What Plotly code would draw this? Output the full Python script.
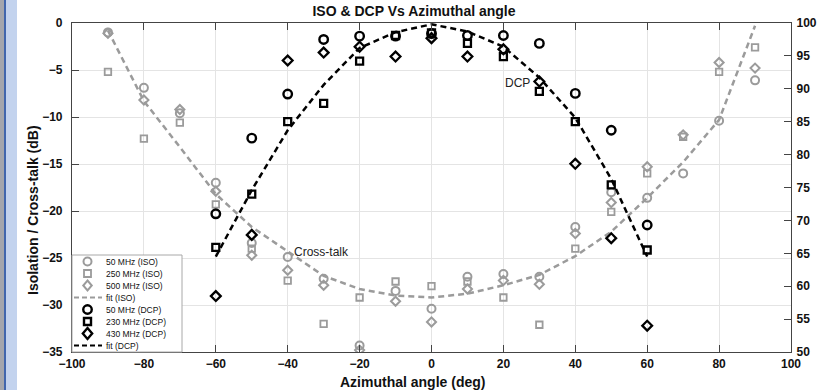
import plotly.graph_objects as go

# ---------------- data ----------------
angles_iso = [-90, -80, -70, -60, -50, -40, -30, -20, -10, 0, 10, 20, 30, 40, 50, 60, 70, 80, 90]
iso_50 = [-1.0, -6.9, -9.6, -17.0, -23.4, -24.9, -27.2, -34.3, -28.5, -30.4, -27.0, -26.7, -27.0, -21.7, -18.0, -18.6, -16.0, -10.4, -6.1]
iso_250 = [-5.2, -12.3, -10.6, -19.3, -24.0, -27.4, -32.0, -29.2, -27.5, -28.0, -27.5, -29.2, -32.1, -24.0, -20.1, -16.0, -12.1, -5.2, -2.6]
iso_500 = [-1.1, -8.2, -9.2, -17.9, -24.7, -26.3, -27.9, -34.8, -29.6, -31.8, -28.3, -27.4, -27.8, -22.4, -19.1, -15.3, -11.9, -4.2, -4.8]
iso_fit = [-0.8, -8.3, -13.2, -18.2, -21.7, -24.3, -26.9, -28.3, -29.0, -29.2, -28.8, -27.9, -26.8, -24.8, -22.2, -18.6, -14.8, -10.3, -0.3]

angles_dcp = [-60, -50, -40, -30, -20, -10, 0, 10, 20, 30, 40, 50, 60]
dcp_50 = [71.0, 82.5, 89.2, 97.5, 98.0, 98.0, 98.4, 98.1, 98.1, 96.9, 89.3, 83.7, 69.3]
dcp_230 = [65.9, 74.0, 85.0, 87.8, 94.2, 98.1, 98.5, 96.9, 94.9, 89.6, 85.0, 75.4, 65.5]
dcp_430 = [58.5, 67.8, 94.3, 95.5, 96.4, 94.9, 97.7, 94.9, 96.0, 91.1, 78.6, 67.3, 54.0]
dcp_fit = [64.5, 74.6, 83.7, 90.6, 96.2, 98.6, 99.8, 98.7, 96.4, 91.7, 85.6, 76.3, 64.5]

legend_labels = ["50 MHz (ISO)", "250 MHz (ISO)", "500 MHz (ISO)", "fit (ISO)",
                 "50 MHz (DCP)", "230 MHz (DCP)", "430 MHz (DCP)", "fit (DCP)"]

GRAY = "#9b9b9b"
BLACK = "#000000"
FONT = "Liberation Sans"

fig = go.Figure()

# ISO (left axis)
fig.add_trace(go.Scatter(x=angles_iso, y=iso_fit, mode="lines", name="fit (ISO)",
                         line=dict(color=GRAY, width=2.5, dash="6px,4px")))
fig.add_trace(go.Scatter(x=angles_iso, y=iso_50, mode="markers", name="50 MHz (ISO)",
                         marker=dict(symbol="circle-open", size=8, color=GRAY, line=dict(width=2, color=GRAY))))
fig.add_trace(go.Scatter(x=angles_iso, y=iso_250, mode="markers", name="250 MHz (ISO)",
                         marker=dict(symbol="square-open", size=6.5, color=GRAY, line=dict(width=1.8, color=GRAY))))
fig.add_trace(go.Scatter(x=angles_iso, y=iso_500, mode="markers", name="500 MHz (ISO)",
                         marker=dict(symbol="diamond-open", size=7, color=GRAY, line=dict(width=2, color=GRAY))))

# DCP (right axis)
fig.add_trace(go.Scatter(x=angles_dcp, y=dcp_fit, mode="lines", name="fit (DCP)", yaxis="y2",
                         line=dict(color=BLACK, width=2.5, dash="6px,4px")))
fig.add_trace(go.Scatter(x=angles_dcp, y=dcp_50, mode="markers", name="50 MHz (DCP)", yaxis="y2",
                         marker=dict(symbol="circle-open", size=8.5, color=BLACK, line=dict(width=2.4, color=BLACK))))
fig.add_trace(go.Scatter(x=angles_dcp, y=dcp_230, mode="markers", name="230 MHz (DCP)", yaxis="y2",
                         marker=dict(symbol="square-open", size=7, color=BLACK, line=dict(width=2.3, color=BLACK))))
fig.add_trace(go.Scatter(x=angles_dcp, y=dcp_430, mode="markers", name="430 MHz (DCP)", yaxis="y2",
                         marker=dict(symbol="diamond-open", size=7.5, color=BLACK, line=dict(width=2.3, color=BLACK))))

# ---------------- layout helpers (pixel -> paper) ----------------
L, R, T, B = 72, 791, 23, 352
W, H = R - L, B - T


def px(p):
    return (p - L) / W


def py(p):
    return 1 - (p - T) / H


shapes = []
# left decorative border strip
shapes.append(dict(type="rect", xref="paper", yref="paper", x0=px(0), x1=px(4), y0=py(390), y1=py(0),
                   fillcolor="#a4a6ad", line=dict(width=0), layer="above"))
shapes.append(dict(type="rect", xref="paper", yref="paper", x0=px(4), x1=px(6), y0=py(390), y1=py(0),
                   fillcolor="#4166ad", line=dict(width=0), layer="above"))
shapes.append(dict(type="rect", xref="paper", yref="paper", x0=px(6), x1=px(17), y0=py(390), y1=py(0),
                   fillcolor="#c3d3ee", line=dict(width=0), layer="above"))

# legend box
shapes.append(dict(type="rect", xref="paper", yref="paper", x0=px(72), x1=px(182), y0=py(352), y1=py(255),
                   fillcolor="white", line=dict(width=1, color="#a8a8a8"), layer="above"))

mx = 87.5
rows = [261.5 + 12 * i for i in range(8)]


def circle(cy, d, color, lw):
    return dict(type="circle", xref="paper", yref="paper", x0=px(mx - d / 2), x1=px(mx + d / 2),
                y0=py(cy + d / 2), y1=py(cy - d / 2), line=dict(color=color, width=lw), layer="above")


def square(cy, s, color, lw):
    return dict(type="rect", xref="paper", yref="paper", x0=px(mx - s / 2), x1=px(mx + s / 2),
                y0=py(cy + s / 2), y1=py(cy - s / 2), line=dict(color=color, width=lw), layer="above")


def diamond(cy, r, color, lw):
    path = "M {} {} L {} {} L {} {} L {} {} Z".format(
        px(mx), py(cy - r), px(mx + r * 0.85), py(cy), px(mx), py(cy + r), px(mx - r * 0.85), py(cy))
    return dict(type="path", xref="paper", yref="paper", path=path, line=dict(color=color, width=lw), layer="above")


def dline(cy, color):
    return dict(type="line", xref="paper", yref="paper", x0=px(74), x1=px(102), y0=py(cy), y1=py(cy),
                line=dict(color=color, width=2, dash="5px,3px"), layer="above")


shapes += [
    circle(rows[0], 8, GRAY, 2),
    square(rows[1], 7, GRAY, 1.8),
    diamond(rows[2], 5, GRAY, 2),
    dline(rows[3], GRAY),
    circle(rows[4], 8.5, BLACK, 2.4),
    square(rows[5], 7, BLACK, 2.4),
    diamond(rows[6], 5.5, BLACK, 2.4),
    dline(rows[7], BLACK),
]

annotations = []
for lab, cy in zip(legend_labels, rows):
    xs = 103.5
    annotations.append(dict(xref="paper", yref="paper", x=px(xs), y=py(cy), text=lab, showarrow=False,
                            xanchor="left", yanchor="middle", font=dict(family=FONT, size=8.5, color="#111")))

# in-plot labels
annotations.append(dict(x=23.8, y=-6.4, xref="x", yref="y", text="DCP", showarrow=False,
                        font=dict(family=FONT, size=12, color="#222")))
annotations.append(dict(x=-30.5, y=-24.35, xref="x", yref="y", text="Cross-talk", showarrow=False,
                        font=dict(family=FONT, size=12, color="#222")))

# axis titles
annotations.append(dict(xref="paper", yref="paper", x=px(412), y=py(382), text="Azimuthal angle (deg)",
                        showarrow=False, xanchor="center", yanchor="middle",
                        font=dict(family=FONT, size=14, color="#111", weight="bold")))
annotations.append(dict(xref="paper", yref="paper", x=px(33), y=py(210), text="Isolation / Cross-talk (dB)",
                        showarrow=False, textangle=-90, xanchor="center", yanchor="middle",
                        font=dict(family=FONT, size=14, color="#111", weight="bold")))

tickfont = dict(family=FONT, size=12, color="#111", weight="bold")

fig.update_layout(
    width=819, height=390,
    margin=dict(l=L, r=819 - R, t=T, b=390 - B, autoexpand=False),
    paper_bgcolor="white", plot_bgcolor="white",
    showlegend=False,
    title=dict(text="ISO & DCP Vs Azimuthal angle", x=414 / 819, xanchor="center",
               y=1 - 11 / 390, yanchor="middle", xref="container", yref="container",
               font=dict(family=FONT, size=14, color="#111", weight="bold")),
    xaxis=dict(range=[-100, 100], tick0=-100, dtick=20, showgrid=True, gridcolor="#e4e4e4", gridwidth=1,
               zeroline=False, showline=True, linecolor="#444", linewidth=1.2, mirror="ticks",
               ticks="inside", ticklen=7, tickcolor="#444", tickwidth=1, tickfont=tickfont,
               automargin=False),
    yaxis=dict(range=[-35, 0], tick0=0, dtick=5, showgrid=True, gridcolor="#e4e4e4", gridwidth=1,
               zeroline=False, showline=True, linecolor="#444", linewidth=1.2,
               ticks="inside", ticklen=7, tickcolor="#444", tickwidth=1, tickfont=tickfont,
               ticklabelstandoff=6, automargin=False),
    yaxis2=dict(range=[50, 100], tick0=50, dtick=5, overlaying="y", side="right", showgrid=False,
                zeroline=False, showline=True, linecolor="#444", linewidth=1.2,
                ticks="inside", ticklen=7, tickcolor="#444", tickwidth=1, tickfont=tickfont,
                ticklabelstandoff=2, automargin=False),
    shapes=shapes,
    annotations=annotations,
)

fig.write_html("out.html")
